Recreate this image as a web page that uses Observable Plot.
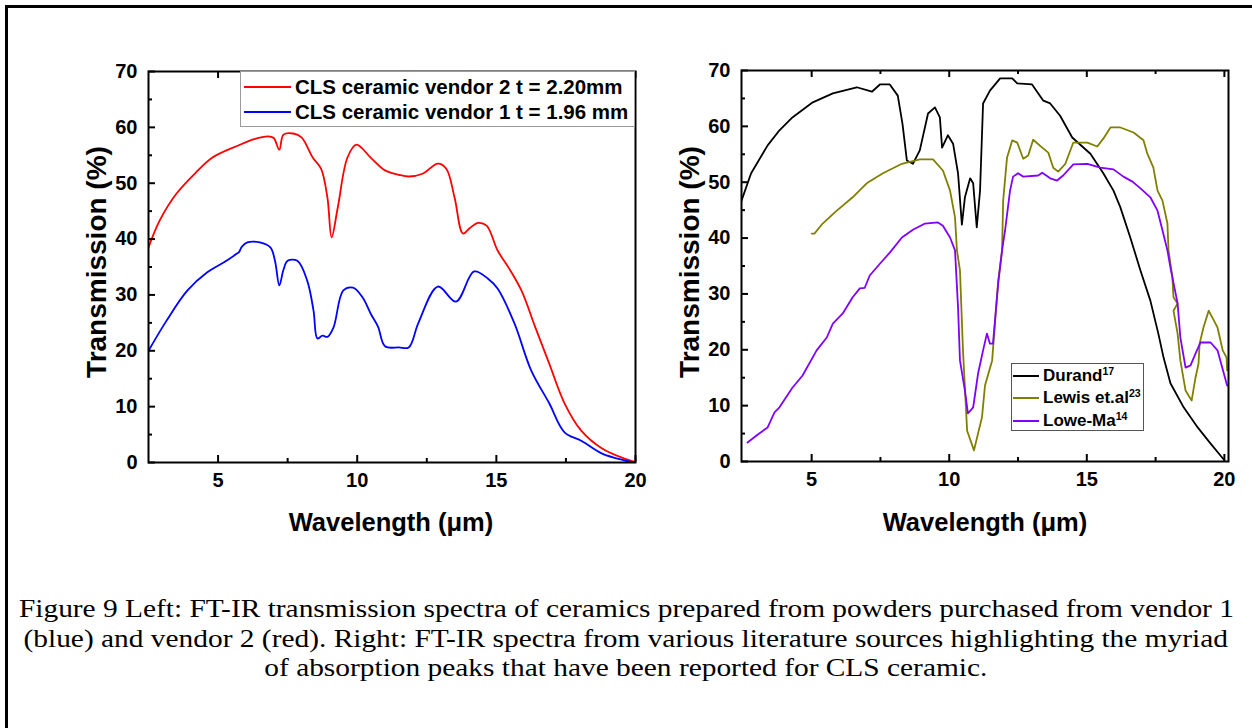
<!DOCTYPE html>
<html>
<head>
<meta charset="utf-8">
<script src="https://cdn.jsdelivr.net/npm/d3@7"></script>
<script src="https://cdn.jsdelivr.net/npm/@observablehq/plot@0.6"></script>
<style>
  html, body { margin: 0; padding: 0; background: #fff; }
  #page { position: relative; width: 1252px; height: 728px; overflow: hidden; background: #fff; }
  #border { position: absolute; left: 5px; top: 5px; width: 1300px; height: 800px; border-top: 3px solid #000; border-left: 3px solid #000; }
  .panel { position: absolute; top: 0; }
  .ytitle, .xtitle { position: absolute; font-family: Arial, "Liberation Sans", sans-serif; font-weight: bold; color: #000; white-space: nowrap; }
  .ytitle { transform: translate(-50%, -50%) rotate(-90deg); font-size: 28px; }
  .xtitle { transform: translate(-50%, -50%); font-size: 25.5px; }
  .legend { position: absolute; background: #fff; font-family: Arial, "Liberation Sans", sans-serif; font-weight: bold; color: #000; }
  .legend .row { position: absolute; left: 0; display: flex; align-items: center; white-space: nowrap; }
  .legend sup { font-size: 0.62em; vertical-align: 0.55em; line-height: 0; }
  #caption { position: absolute; left: 0; width: 1252px; top: 594px; text-align: center; font-family: "Liberation Serif", "Times New Roman", serif; font-size: 26px; line-height: 29.5px; color: #000; white-space: nowrap; }
  #caption span { display: inline-block; transform-origin: 50% 50%; }
</style>
</head>
<body>
<div id="page">
  <div id="border"></div>
  <div id="left" class="panel" style="left:0px"></div>
  <div id="right" class="panel" style="left:640px"></div>
  <div id="titles"></div>
  <div id="legends"></div>
  <div id="caption"></div>
</div>
<script>
// ---------------- data ----------------
const xMajorTicks = [5, 10, 15, 20];
const xMinorTicks = [7.5, 12.5, 17.5];
const yMajorTicks = [0, 10, 20, 30, 40, 50, 60, 70];
const yMinorTicks = [5, 15, 25, 35, 45, 55, 65];

const leftSeriesNames = ["CLS ceramic vendor 2 t = 2.20mm", "CLS ceramic vendor 1 t = 1.96 mm"];
const leftSeriesColors = ["#ff0000", "#0000ff"];

// Vendor 2 (red): [wavelength µm, transmission %]
const vendor2 = [[2.5,38.5],[2.9,43.3],[3.5,48.1],[4.2,51.9],[4.8,54.6],[5.7,56.7],[6.3,57.9],[6.8,58.4],[7.0,58.1],[7.2,56.0],[7.35,58.7],[7.7,58.9],[8.0,58.2],[8.4,54.6],[8.7,52.6],[8.93,47.4],[9.08,40.3],[9.3,45.6],[9.65,54.6],[9.97,56.9],[10.5,54.5],[11.0,52.3],[11.5,51.5],[11.85,51.2],[12.35,51.7],[12.9,53.5],[13.2,52.6],[13.5,47.4],[13.8,41.0],[14.05,42.0],[14.35,42.9],[14.65,42.4],[15.05,37.9],[15.45,34.8],[15.9,30.8],[16.4,24.2],[16.9,17.7],[17.45,10.6],[18.05,5.7],[18.8,2.5],[19.6,0.7],[20,0.1]];

// Vendor 1 (blue)
const vendor1 = [[2.5,20.0],[3.15,25.4],[3.9,30.8],[4.6,34.0],[5.3,36.1],[5.68,37.4],[5.76,37.7],[5.85,38.6],[6.05,39.4],[6.5,39.4],[6.88,38.5],[7.05,36.0],[7.2,31.7],[7.35,34.5],[7.5,36.1],[7.85,36.1],[8.2,32.6],[8.43,27.2],[8.57,22.2],[8.75,22.7],[8.93,22.5],[9.15,24.2],[9.5,30.8],[9.85,31.3],[10.2,29.5],[10.5,26.5],[10.75,24.3],[11.0,20.8],[11.5,20.6],[11.85,20.6],[12.2,25.0],[12.9,31.5],[13.55,28.8],[14.2,34.2],[14.7,32.9],[15.05,31.1],[15.65,24.9],[16.25,16.5],[16.9,10.6],[17.45,5.4],[18.05,3.9],[18.8,1.6],[19.6,0.4],[20,0.0]];

const rightSeriesNames = ["Durand", "Lewis et.al", "Lowe-Ma"];
const rightSeriesRefs = ["17", "23", "14"];
const rightSeriesColors = ["#000000", "#808000", "#8000ff"];

// Durand (black)
const durand = [[2.45,46.7],[2.8,51.6],[3.4,56.6],[3.83,59.3],[4.3,61.6],[5.04,64.3],[5.77,65.9],[6.64,67.0],[7.19,66.2],[7.48,67.5],[7.84,67.5],[8.13,65.5],[8.3,60.5],[8.46,53.9],[8.68,53.3],[8.93,55.7],[9.23,62.3],[9.48,63.4],[9.66,61.6],[9.74,56.2],[9.95,58.4],[10.14,56.9],[10.32,51.6],[10.46,42.4],[10.57,47.3],[10.76,50.7],[10.87,49.8],[11.0,41.9],[11.12,48.5],[11.23,64.1],[11.48,66.4],[11.85,68.6],[12.29,68.6],[12.47,67.7],[13.01,67.5],[13.42,64.6],[13.67,64.1],[14.03,61.9],[14.47,58.0],[15.13,55.1],[15.6,51.6],[15.97,48.5],[16.22,45.5],[16.58,40.1],[16.95,34.2],[17.31,28.8],[17.6,22.9],[17.79,18.6],[18.04,14.0],[18.52,9.7],[19.03,6.1],[19.5,3.2],[19.97,0.4]];

// Lewis et.al (olive)
const lewis = [[5.0,40.8],[5.1,40.8],[5.4,42.6],[5.84,44.6],[6.49,47.3],[7.0,49.8],[7.59,51.6],[8.28,53.3],[8.93,54.1],[9.41,54.1],[9.77,52.1],[10.03,48.5],[10.21,43.7],[10.28,37.8],[10.39,34.2],[10.5,19.9],[10.65,5.5],[10.9,2.0],[11.19,7.9],[11.3,13.6],[11.56,18.1],[11.78,32.4],[11.92,37.8],[11.96,46.7],[12.1,54.4],[12.29,57.5],[12.47,57.1],[12.69,54.2],[12.87,54.8],[13.05,57.6],[13.38,56.2],[13.6,55.3],[13.78,52.6],[13.96,51.9],[14.22,53.3],[14.51,57.1],[15.02,57.1],[15.38,56.4],[15.6,57.8],[15.86,59.8],[16.22,59.8],[16.7,58.9],[17.06,57.5],[17.2,55.1],[17.42,52.6],[17.57,48.5],[17.75,46.7],[17.93,42.6],[17.97,37.8],[18.11,33.0],[18.15,29.4],[18.3,28.3],[18.15,27.0],[18.3,22.9],[18.4,18.1],[18.59,12.7],[18.81,10.9],[18.95,15.0],[19.06,17.5],[19.1,21.1],[19.24,24.0],[19.43,27.0],[19.75,24.0],[19.94,19.9],[20.08,18.6],[20.1,16.3]];

// Lowe-Ma (purple)
const loweMa = [[2.67,3.4],[3.03,4.8],[3.4,6.1],[3.65,8.8],[3.83,9.7],[4.3,13.2],[4.67,15.4],[5.18,19.9],[5.55,22.2],[5.77,24.7],[6.13,26.5],[6.49,29.4],[6.75,31.0],[6.93,31.1],[7.11,33.3],[7.48,35.4],[7.84,37.4],[8.28,40.1],[8.68,41.5],[9.12,42.6],[9.59,42.8],[9.77,42.2],[10.03,40.1],[10.21,37.8],[10.32,27.6],[10.39,18.1],[10.57,12.7],[10.68,8.6],[10.87,9.7],[11.05,15.8],[11.23,19.9],[11.37,22.9],[11.48,21.1],[11.59,21.1],[11.78,31.9],[11.92,37.8],[12.03,41.4],[12.21,48.5],[12.32,51.0],[12.5,51.6],[12.69,51.0],[13.23,51.2],[13.38,51.7],[13.67,50.7],[13.92,50.3],[14.14,51.2],[14.51,53.2],[15.02,53.3],[15.49,52.6],[15.97,52.3],[16.33,51.0],[16.66,50.1],[16.95,48.9],[17.31,47.3],[17.57,44.9],[17.75,41.4],[17.93,37.8],[18.04,34.7],[18.3,28.3],[18.4,22.2],[18.59,16.8],[18.77,17.2],[18.95,19.3],[19.13,21.3],[19.5,21.3],[19.75,19.9],[20.1,13.6]];

const xTitle = "Wavelength (\u03bcm)";
const yTitle = "Transmission (%)";
const captionLines = [
  "Figure 9 Left: FT-IR transmission spectra of ceramics prepared from powders purchased from vendor 1",
  "(blue) and vendor 2 (red). Right: FT-IR spectra from various literature sources highlighting the myriad",
  "of absorption peaks that have been reported for CLS ceramic."
];

// ---------------- drawing ----------------
const FONT = "Arial, 'Liberation Sans', sans-serif";
const INNER = 391; // plot-area height in px
const INNER_W = 487; // plot-area width in px

function axes() {
  return [
    // inward tick marks (bottom, top, left)
    Plot.tickX(xMajorTicks, {x: d => d, insetTop: INNER - 7, strokeWidth: 2}),
    Plot.tickX(xMinorTicks, {x: d => d, insetTop: INNER - 4, strokeWidth: 2}),
    Plot.tickX(xMajorTicks, {x: d => d, insetBottom: INNER - 7, strokeWidth: 2}),
    Plot.tickX(xMinorTicks, {x: d => d, insetBottom: INNER - 4, strokeWidth: 2}),
    Plot.tickY(yMajorTicks, {y: d => d, insetRight: INNER_W - 7, strokeWidth: 2}),
    Plot.tickY(yMinorTicks, {y: d => d, insetRight: INNER_W - 4, strokeWidth: 2}),
    Plot.frame({stroke: "#000", strokeWidth: 2}),
    Plot.axisX({anchor: "bottom", ticks: xMajorTicks, tickSize: 0, tickPadding: 10, label: null, fontSize: 20, fontWeight: "bold"}),
    Plot.axisY({anchor: "left", ticks: yMajorTicks, tickSize: 0, tickPadding: 11, label: null, fontSize: 20, fontWeight: "bold"})
  ];
}

function seriesLine(data, color, curve) {
  return Plot.line(data, {x: d => d[0], y: d => d[1], stroke: color, strokeWidth: 1.8, curve, clip: true});
}

const leftPlot = Plot.plot({
  width: 660, height: 560,
  marginLeft: 148, marginRight: 25, marginTop: 71, marginBottom: 98,
  x: {domain: [2.5, 20]},
  y: {domain: [0, 70]},
  style: {fontFamily: FONT, fontSize: "20px", fontWeight: "bold", color: "#000", background: "transparent", overflow: "visible"},
  marks: [
    seriesLine(vendor2, leftSeriesColors[0], "catmull-rom"),
    seriesLine(vendor1, leftSeriesColors[1], "catmull-rom"),
    ...axes()
  ]
});
document.getElementById("left").appendChild(leftPlot);

const rightPlot = Plot.plot({
  width: 612, height: 560,
  marginLeft: 101, marginRight: 24, marginTop: 70, marginBottom: 99,
  x: {domain: [2.45, 20.15]},
  y: {domain: [0, 70]},
  style: {fontFamily: FONT, fontSize: "20px", fontWeight: "bold", color: "#000", background: "transparent", overflow: "visible"},
  marks: [
    seriesLine(durand, rightSeriesColors[0], "linear"),
    seriesLine(lewis, rightSeriesColors[1], "linear"),
    seriesLine(loweMa, rightSeriesColors[2], "linear"),
    ...axes()
  ]
});
document.getElementById("right").appendChild(rightPlot);

// axis titles
const titles = document.getElementById("titles");
function addTitle(cls, text, x, y) {
  const d = document.createElement("div");
  d.className = cls; d.textContent = text;
  d.style.left = x + "px"; d.style.top = y + "px";
  titles.appendChild(d);
}
addTitle("ytitle", yTitle, 97, 262);
addTitle("xtitle", xTitle, 391, 522);
addTitle("ytitle", yTitle, 690, 262);
addTitle("xtitle", xTitle, 985, 522);

// legends
const legends = document.getElementById("legends");
function addLegend(box, rows) {
  const L = document.createElement("div");
  L.className = "legend";
  Object.assign(L.style, {left: box.left + "px", top: box.top + "px", width: box.width + "px", height: box.height + "px", border: box.border, fontSize: box.fontSize + "px"});
  rows.forEach((r, i) => {
    const row = document.createElement("div");
    row.className = "row";
    row.style.top = (box.rowTop + i * box.rowStep) + "px";
    row.style.left = box.lineLeft + "px";
    row.style.height = box.rowH + "px";
    row.innerHTML = `<svg width="${box.lineLen}" height="4" style="margin-right:${box.gap}px"><line x1="0" y1="2" x2="${box.lineLen}" y2="2" stroke="${r.color}" stroke-width="2"/></svg><span>${r.html}</span>`;
    L.appendChild(row);
  });
  legends.appendChild(L);
}
addLegend({left: 240, top: 71, width: 393, height: 54, border: "1px solid #9a9a9a", fontSize: 20.5, rowTop: 3, rowStep: 25, rowH: 24, lineLeft: 3, lineLen: 47, gap: 4},
  leftSeriesNames.map((n, i) => ({html: n, color: leftSeriesColors[i]})));
addLegend({left: 1011, top: 363, width: 131, height: 66, border: "1px solid #555", fontSize: 17, rowTop: 1, rowStep: 22.5, rowH: 21, lineLeft: 1, lineLen: 26, gap: 4},
  rightSeriesNames.map((n, i) => ({html: `${n}<sup>${rightSeriesRefs[i]}</sup>`, color: rightSeriesColors[i]})));

// caption (stretched horizontally to the width it has in the reference)
const cap = document.getElementById("caption");
cap.innerHTML = captionLines.map(t => `<span>${t}</span>`).join("<br>");
const spans = cap.querySelectorAll("span");
const w0 = spans[0].getBoundingClientRect().width;
const sx = 1215 / w0;
spans.forEach(s => { s.style.transform = `scaleX(${sx})`; });
</script>
</body>
</html>
